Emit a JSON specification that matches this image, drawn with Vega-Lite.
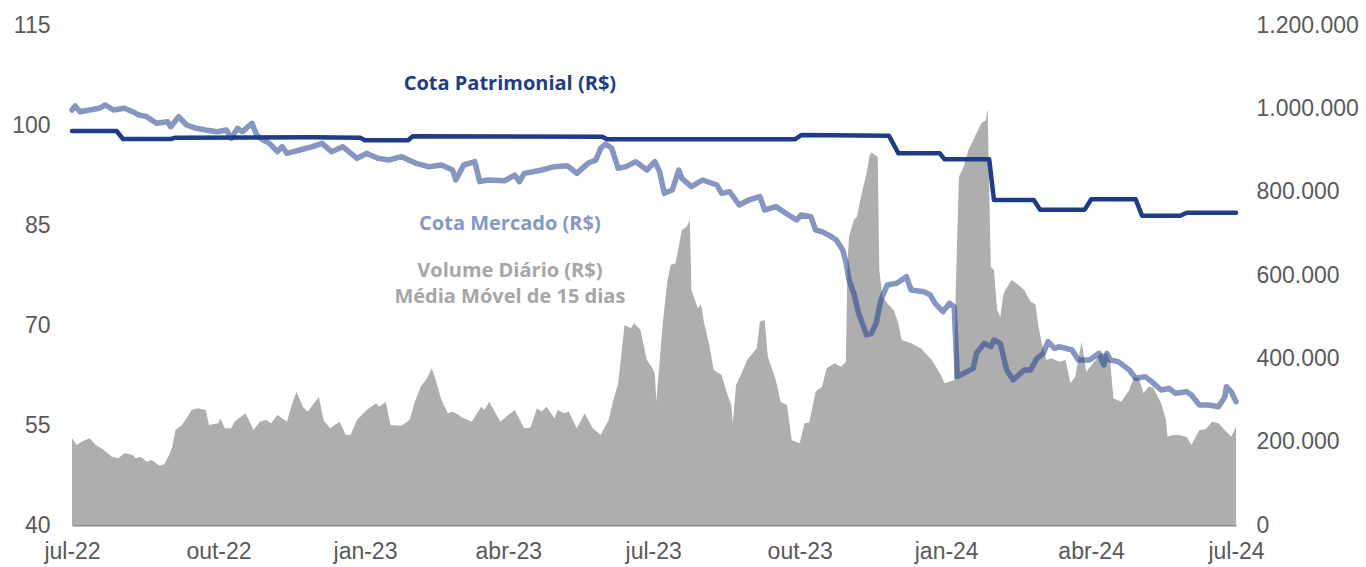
{
  "$schema": "https://vega.github.io/schema/vega-lite/v6.json",
  "width": 1164,
  "height": 500,
  "autosize": {"type": "none"},
  "padding": {"left": 72, "top": 25, "right": 130, "bottom": 42},
  "config": {
    "view": {"stroke": null},
    "locale": {
      "number": {"decimal": ",", "thousands": ".", "grouping": [3], "currency": ["R$", ""]},
      "time": {
        "dateTime": "%A, %e de %B de %Y. %X",
        "date": "%d/%m/%Y",
        "time": "%H:%M:%S",
        "periods": ["AM", "PM"],
        "days": ["domingo", "segunda", "terça", "quarta", "quinta", "sexta", "sábado"],
        "shortDays": ["dom", "seg", "ter", "qua", "qui", "sex", "sáb"],
        "months": ["janeiro", "fevereiro", "março", "abril", "maio", "junho", "julho", "agosto", "setembro", "outubro", "novembro", "dezembro"],
        "shortMonths": ["jan", "fev", "mar", "abr", "mai", "jun", "jul", "ago", "set", "out", "nov", "dez"]
      }
    },
    "axis": {
      "grid": false,
      "ticks": false,
      "domain": false,
      "title": null,
      "labelFont": "Liberation Sans",
      "labelFontSize": 23,
      "labelColor": "#595959",
      "labelFlush": false
    },
    "axisX": {"domain": true, "domainColor": "#8C8C8C", "domainWidth": 2, "labelPadding": 15}
  },
  "datasets": {
    "vol": [
      {"date": "2022-07-01", "vol": 208000}, {"date": "2022-07-04", "vol": 192000}, {"date": "2022-07-07", "vol": 200000}, {"date": "2022-07-12", "vol": 208000},
      {"date": "2022-07-16", "vol": 192000}, {"date": "2022-07-21", "vol": 180000}, {"date": "2022-07-26", "vol": 164000}, {"date": "2022-07-30", "vol": 160000},
      {"date": "2022-08-03", "vol": 172000}, {"date": "2022-08-08", "vol": 168000}, {"date": "2022-08-10", "vol": 160000}, {"date": "2022-08-13", "vol": 164000},
      {"date": "2022-08-17", "vol": 152000}, {"date": "2022-08-20", "vol": 156000}, {"date": "2022-08-25", "vol": 142000}, {"date": "2022-08-28", "vol": 146000},
      {"date": "2022-08-31", "vol": 168000}, {"date": "2022-09-02", "vol": 188000}, {"date": "2022-09-04", "vol": 228000}, {"date": "2022-09-08", "vol": 240000},
      {"date": "2022-09-11", "vol": 256000}, {"date": "2022-09-14", "vol": 276000}, {"date": "2022-09-18", "vol": 280000}, {"date": "2022-09-23", "vol": 276000},
      {"date": "2022-09-25", "vol": 240000}, {"date": "2022-10-01", "vol": 244000}, {"date": "2022-10-02", "vol": 256000}, {"date": "2022-10-05", "vol": 232000},
      {"date": "2022-10-09", "vol": 232000}, {"date": "2022-10-11", "vol": 248000}, {"date": "2022-10-18", "vol": 268000}, {"date": "2022-10-23", "vol": 228000},
      {"date": "2022-10-27", "vol": 248000}, {"date": "2022-10-31", "vol": 252000}, {"date": "2022-11-03", "vol": 244000}, {"date": "2022-11-07", "vol": 264000},
      {"date": "2022-11-13", "vol": 248000}, {"date": "2022-11-16", "vol": 288000}, {"date": "2022-11-19", "vol": 320000}, {"date": "2022-11-23", "vol": 284000},
      {"date": "2022-11-26", "vol": 272000}, {"date": "2022-12-03", "vol": 308000}, {"date": "2022-12-06", "vol": 252000}, {"date": "2022-12-10", "vol": 232000},
      {"date": "2022-12-16", "vol": 248000}, {"date": "2022-12-20", "vol": 216000}, {"date": "2022-12-23", "vol": 216000}, {"date": "2022-12-27", "vol": 252000},
      {"date": "2023-01-02", "vol": 276000}, {"date": "2023-01-08", "vol": 292000}, {"date": "2023-01-10", "vol": 284000}, {"date": "2023-01-14", "vol": 296000},
      {"date": "2023-01-17", "vol": 240000}, {"date": "2023-01-24", "vol": 238000}, {"date": "2023-01-29", "vol": 252000}, {"date": "2023-02-01", "vol": 292000},
      {"date": "2023-02-05", "vol": 332000}, {"date": "2023-02-09", "vol": 352000}, {"date": "2023-02-12", "vol": 376000}, {"date": "2023-02-15", "vol": 340000},
      {"date": "2023-02-18", "vol": 300000}, {"date": "2023-02-22", "vol": 268000}, {"date": "2023-02-25", "vol": 272000}, {"date": "2023-03-01", "vol": 264000},
      {"date": "2023-03-02", "vol": 260000}, {"date": "2023-03-09", "vol": 248000}, {"date": "2023-03-15", "vol": 284000}, {"date": "2023-03-17", "vol": 276000},
      {"date": "2023-03-20", "vol": 296000}, {"date": "2023-03-27", "vol": 248000}, {"date": "2023-04-01", "vol": 264000}, {"date": "2023-04-05", "vol": 276000},
      {"date": "2023-04-11", "vol": 232000}, {"date": "2023-04-15", "vol": 234000}, {"date": "2023-04-19", "vol": 280000}, {"date": "2023-04-22", "vol": 272000},
      {"date": "2023-04-25", "vol": 284000}, {"date": "2023-04-30", "vol": 256000}, {"date": "2023-05-02", "vol": 276000}, {"date": "2023-05-06", "vol": 268000},
      {"date": "2023-05-09", "vol": 272000}, {"date": "2023-05-14", "vol": 232000}, {"date": "2023-05-19", "vol": 268000}, {"date": "2023-05-24", "vol": 232000},
      {"date": "2023-05-29", "vol": 216000}, {"date": "2023-06-03", "vol": 252000}, {"date": "2023-06-06", "vol": 300000}, {"date": "2023-06-09", "vol": 340000},
      {"date": "2023-06-13", "vol": 480000}, {"date": "2023-06-17", "vol": 472000}, {"date": "2023-06-19", "vol": 484000}, {"date": "2023-06-23", "vol": 468000},
      {"date": "2023-06-27", "vol": 396000}, {"date": "2023-06-30", "vol": 380000}, {"date": "2023-07-02", "vol": 364000}, {"date": "2023-07-03", "vol": 296000},
      {"date": "2023-07-07", "vol": 484000}, {"date": "2023-07-10", "vol": 588000}, {"date": "2023-07-12", "vol": 624000}, {"date": "2023-07-15", "vol": 628000},
      {"date": "2023-07-19", "vol": 708000}, {"date": "2023-07-22", "vol": 716000}, {"date": "2023-07-24", "vol": 732000}, {"date": "2023-07-25", "vol": 564000},
      {"date": "2023-07-29", "vol": 520000}, {"date": "2023-07-31", "vol": 530000}, {"date": "2023-08-02", "vol": 484000}, {"date": "2023-08-05", "vol": 436000},
      {"date": "2023-08-08", "vol": 372000}, {"date": "2023-08-13", "vol": 360000}, {"date": "2023-08-16", "vol": 320000}, {"date": "2023-08-19", "vol": 288000},
      {"date": "2023-08-20", "vol": 244000}, {"date": "2023-08-22", "vol": 336000}, {"date": "2023-08-25", "vol": 360000}, {"date": "2023-08-29", "vol": 396000},
      {"date": "2023-09-04", "vol": 424000}, {"date": "2023-09-06", "vol": 488000}, {"date": "2023-09-09", "vol": 492000}, {"date": "2023-09-11", "vol": 404000},
      {"date": "2023-09-16", "vol": 348000}, {"date": "2023-09-19", "vol": 296000}, {"date": "2023-09-23", "vol": 288000}, {"date": "2023-09-26", "vol": 204000},
      {"date": "2023-10-01", "vol": 196000}, {"date": "2023-10-04", "vol": 244000}, {"date": "2023-10-07", "vol": 246000}, {"date": "2023-10-11", "vol": 320000},
      {"date": "2023-10-15", "vol": 332000}, {"date": "2023-10-18", "vol": 376000}, {"date": "2023-10-23", "vol": 388000}, {"date": "2023-10-27", "vol": 380000},
      {"date": "2023-10-30", "vol": 392000}, {"date": "2023-10-31", "vol": 628000}, {"date": "2023-11-01", "vol": 692000}, {"date": "2023-11-04", "vol": 732000},
      {"date": "2023-11-06", "vol": 740000}, {"date": "2023-11-08", "vol": 780000}, {"date": "2023-11-12", "vol": 844000}, {"date": "2023-11-14", "vol": 888000},
      {"date": "2023-11-15", "vol": 894000}, {"date": "2023-11-19", "vol": 884000}, {"date": "2023-11-20", "vol": 612000}, {"date": "2023-11-22", "vol": 548000},
      {"date": "2023-11-25", "vol": 532000}, {"date": "2023-11-29", "vol": 516000}, {"date": "2023-12-02", "vol": 484000}, {"date": "2023-12-04", "vol": 444000},
      {"date": "2023-12-10", "vol": 436000}, {"date": "2023-12-16", "vol": 424000}, {"date": "2023-12-23", "vol": 396000}, {"date": "2023-12-28", "vol": 364000},
      {"date": "2023-12-31", "vol": 340000}, {"date": "2024-01-06", "vol": 348000}, {"date": "2024-01-07", "vol": 564000}, {"date": "2024-01-09", "vol": 836000},
      {"date": "2024-01-12", "vol": 860000}, {"date": "2024-01-15", "vol": 900000}, {"date": "2024-01-20", "vol": 940000}, {"date": "2024-01-23", "vol": 964000},
      {"date": "2024-01-26", "vol": 972000}, {"date": "2024-01-27", "vol": 1000000}, {"date": "2024-01-29", "vol": 620000}, {"date": "2024-01-31", "vol": 612000},
      {"date": "2024-02-02", "vol": 516000}, {"date": "2024-02-04", "vol": 500000}, {"date": "2024-02-06", "vol": 556000}, {"date": "2024-02-11", "vol": 588000},
      {"date": "2024-02-14", "vol": 580000}, {"date": "2024-02-19", "vol": 564000}, {"date": "2024-02-23", "vol": 536000}, {"date": "2024-02-26", "vol": 530000},
      {"date": "2024-02-28", "vol": 476000}, {"date": "2024-03-01", "vol": 436000}, {"date": "2024-03-04", "vol": 396000}, {"date": "2024-03-07", "vol": 400000},
      {"date": "2024-03-12", "vol": 392000}, {"date": "2024-03-16", "vol": 396000}, {"date": "2024-03-19", "vol": 340000}, {"date": "2024-03-22", "vol": 356000},
      {"date": "2024-03-26", "vol": 440000}, {"date": "2024-03-29", "vol": 368000}, {"date": "2024-04-03", "vol": 392000}, {"date": "2024-04-07", "vol": 412000},
      {"date": "2024-04-11", "vol": 412000}, {"date": "2024-04-13", "vol": 392000}, {"date": "2024-04-15", "vol": 304000}, {"date": "2024-04-20", "vol": 296000},
      {"date": "2024-04-25", "vol": 324000}, {"date": "2024-04-28", "vol": 356000}, {"date": "2024-05-01", "vol": 352000}, {"date": "2024-05-04", "vol": 316000},
      {"date": "2024-05-07", "vol": 332000}, {"date": "2024-05-10", "vol": 330000}, {"date": "2024-05-15", "vol": 292000}, {"date": "2024-05-18", "vol": 252000},
      {"date": "2024-05-19", "vol": 212000}, {"date": "2024-05-22", "vol": 216000}, {"date": "2024-05-26", "vol": 216000}, {"date": "2024-05-31", "vol": 212000},
      {"date": "2024-06-03", "vol": 192000}, {"date": "2024-06-08", "vol": 228000}, {"date": "2024-06-12", "vol": 230000}, {"date": "2024-06-16", "vol": 248000},
      {"date": "2024-06-20", "vol": 244000}, {"date": "2024-06-25", "vol": 224000}, {"date": "2024-06-28", "vol": 212000}, {"date": "2024-07-01", "vol": 236000}
    ],
    "pat": [
      {"date": "2022-07-01", "v": 99.1}, {"date": "2022-07-29", "v": 99.1}, {"date": "2022-08-02", "v": 97.9}, {"date": "2022-09-01", "v": 97.9},
      {"date": "2022-09-04", "v": 98.1}, {"date": "2022-11-28", "v": 98.15}, {"date": "2022-12-29", "v": 98.1}, {"date": "2023-01-01", "v": 97.7},
      {"date": "2023-01-28", "v": 97.7}, {"date": "2023-01-31", "v": 98.3}, {"date": "2023-05-30", "v": 98.25}, {"date": "2023-06-02", "v": 97.85},
      {"date": "2023-09-28", "v": 97.85}, {"date": "2023-10-02", "v": 98.5}, {"date": "2023-11-26", "v": 98.4}, {"date": "2023-12-02", "v": 95.75},
      {"date": "2023-12-28", "v": 95.75}, {"date": "2023-12-31", "v": 94.85}, {"date": "2024-01-28", "v": 94.85}, {"date": "2024-01-31", "v": 88.75},
      {"date": "2024-02-25", "v": 88.75}, {"date": "2024-02-29", "v": 87.3}, {"date": "2024-03-28", "v": 87.3}, {"date": "2024-04-01", "v": 88.85},
      {"date": "2024-04-29", "v": 88.85}, {"date": "2024-05-03", "v": 86.4}, {"date": "2024-05-27", "v": 86.4}, {"date": "2024-05-31", "v": 86.85},
      {"date": "2024-07-01", "v": 86.85}
    ],
    "mer": [
      {"date": "2022-07-01", "v": 102.25}, {"date": "2022-07-03", "v": 102.85}, {"date": "2022-07-06", "v": 102.0}, {"date": "2022-07-18", "v": 102.5},
      {"date": "2022-07-22", "v": 103.0}, {"date": "2022-07-27", "v": 102.25}, {"date": "2022-08-03", "v": 102.5}, {"date": "2022-08-08", "v": 102.0},
      {"date": "2022-08-12", "v": 101.5}, {"date": "2022-08-17", "v": 101.25}, {"date": "2022-08-23", "v": 100.25}, {"date": "2022-08-30", "v": 100.5},
      {"date": "2022-09-01", "v": 99.75}, {"date": "2022-09-06", "v": 101.25}, {"date": "2022-09-11", "v": 100.0}, {"date": "2022-09-17", "v": 99.5},
      {"date": "2022-09-23", "v": 99.25}, {"date": "2022-09-30", "v": 99.0}, {"date": "2022-10-06", "v": 99.25}, {"date": "2022-10-09", "v": 98.0},
      {"date": "2022-10-13", "v": 99.5}, {"date": "2022-10-16", "v": 99.0}, {"date": "2022-10-22", "v": 100.25}, {"date": "2022-10-25", "v": 98.5},
      {"date": "2022-10-29", "v": 97.75}, {"date": "2022-11-02", "v": 97.25}, {"date": "2022-11-07", "v": 96.0}, {"date": "2022-11-10", "v": 96.75},
      {"date": "2022-11-13", "v": 95.75}, {"date": "2022-11-21", "v": 96.25}, {"date": "2022-11-29", "v": 96.75}, {"date": "2022-12-05", "v": 97.25},
      {"date": "2022-12-11", "v": 96.0}, {"date": "2022-12-18", "v": 96.75}, {"date": "2022-12-27", "v": 95.0}, {"date": "2023-01-02", "v": 95.75},
      {"date": "2023-01-09", "v": 95.0}, {"date": "2023-01-16", "v": 94.75}, {"date": "2023-01-24", "v": 95.25}, {"date": "2023-02-02", "v": 94.25},
      {"date": "2023-02-10", "v": 93.75}, {"date": "2023-02-18", "v": 94.0}, {"date": "2023-02-25", "v": 93.25}, {"date": "2023-02-27", "v": 91.75},
      {"date": "2023-03-04", "v": 94.0}, {"date": "2023-03-11", "v": 94.5}, {"date": "2023-03-14", "v": 91.5}, {"date": "2023-03-19", "v": 91.75},
      {"date": "2023-03-30", "v": 91.65}, {"date": "2023-04-05", "v": 92.5}, {"date": "2023-04-08", "v": 91.5}, {"date": "2023-04-11", "v": 92.75},
      {"date": "2023-04-22", "v": 93.25}, {"date": "2023-04-30", "v": 93.75}, {"date": "2023-05-08", "v": 93.9}, {"date": "2023-05-14", "v": 92.75},
      {"date": "2023-05-21", "v": 94.25}, {"date": "2023-05-26", "v": 94.75}, {"date": "2023-05-29", "v": 96.5}, {"date": "2023-06-01", "v": 97.15},
      {"date": "2023-06-05", "v": 96.5}, {"date": "2023-06-09", "v": 93.5}, {"date": "2023-06-14", "v": 93.75}, {"date": "2023-06-20", "v": 94.5},
      {"date": "2023-06-27", "v": 93.25}, {"date": "2023-07-02", "v": 94.5}, {"date": "2023-07-05", "v": 93.0}, {"date": "2023-07-08", "v": 89.75},
      {"date": "2023-07-13", "v": 90.25}, {"date": "2023-07-17", "v": 93.25}, {"date": "2023-07-19", "v": 92.0}, {"date": "2023-07-25", "v": 90.75},
      {"date": "2023-08-01", "v": 91.75}, {"date": "2023-08-10", "v": 91.0}, {"date": "2023-08-13", "v": 89.75}, {"date": "2023-08-18", "v": 90.0},
      {"date": "2023-08-24", "v": 88.0}, {"date": "2023-08-30", "v": 88.75}, {"date": "2023-09-06", "v": 89.25}, {"date": "2023-09-09", "v": 87.25},
      {"date": "2023-09-16", "v": 87.75}, {"date": "2023-09-24", "v": 86.5}, {"date": "2023-09-29", "v": 85.75}, {"date": "2023-10-02", "v": 86.5},
      {"date": "2023-10-08", "v": 86.25}, {"date": "2023-10-11", "v": 84.25}, {"date": "2023-10-15", "v": 84.0}, {"date": "2023-10-21", "v": 83.25},
      {"date": "2023-10-24", "v": 82.75}, {"date": "2023-10-28", "v": 81.25}, {"date": "2023-10-30", "v": 79.5}, {"date": "2023-11-01", "v": 76.75},
      {"date": "2023-11-04", "v": 74.75}, {"date": "2023-11-07", "v": 71.75}, {"date": "2023-11-12", "v": 68.5}, {"date": "2023-11-15", "v": 68.75},
      {"date": "2023-11-18", "v": 70.25}, {"date": "2023-11-21", "v": 73.75}, {"date": "2023-11-25", "v": 76.0}, {"date": "2023-12-01", "v": 76.25},
      {"date": "2023-12-07", "v": 77.25}, {"date": "2023-12-10", "v": 75.25}, {"date": "2023-12-18", "v": 75.0}, {"date": "2023-12-22", "v": 74.5},
      {"date": "2023-12-25", "v": 73.25}, {"date": "2023-12-30", "v": 72.0}, {"date": "2024-01-03", "v": 73.25}, {"date": "2024-01-06", "v": 72.75},
      {"date": "2024-01-08", "v": 62.25}, {"date": "2024-01-12", "v": 62.75}, {"date": "2024-01-18", "v": 63.5}, {"date": "2024-01-20", "v": 65.75},
      {"date": "2024-01-25", "v": 67.25}, {"date": "2024-01-29", "v": 66.75}, {"date": "2024-01-31", "v": 67.75}, {"date": "2024-02-04", "v": 67.25},
      {"date": "2024-02-08", "v": 63.25}, {"date": "2024-02-12", "v": 61.75}, {"date": "2024-02-19", "v": 63.25}, {"date": "2024-02-23", "v": 63.25},
      {"date": "2024-02-27", "v": 65.0}, {"date": "2024-03-02", "v": 65.75}, {"date": "2024-03-05", "v": 67.5}, {"date": "2024-03-09", "v": 66.5},
      {"date": "2024-03-12", "v": 66.75}, {"date": "2024-03-20", "v": 66.25}, {"date": "2024-03-24", "v": 64.75}, {"date": "2024-03-31", "v": 64.75},
      {"date": "2024-04-06", "v": 65.75}, {"date": "2024-04-09", "v": 64.0}, {"date": "2024-04-11", "v": 65.75}, {"date": "2024-04-13", "v": 64.75},
      {"date": "2024-04-18", "v": 64.5}, {"date": "2024-04-25", "v": 63.25}, {"date": "2024-04-29", "v": 62.0}, {"date": "2024-05-05", "v": 62.25},
      {"date": "2024-05-09", "v": 61.5}, {"date": "2024-05-15", "v": 60.25}, {"date": "2024-05-20", "v": 60.5}, {"date": "2024-05-24", "v": 59.75},
      {"date": "2024-05-31", "v": 60.0}, {"date": "2024-06-03", "v": 59.5}, {"date": "2024-06-08", "v": 58.0}, {"date": "2024-06-14", "v": 58.0},
      {"date": "2024-06-20", "v": 57.75}, {"date": "2024-06-24", "v": 59.25}, {"date": "2024-06-25", "v": 60.75}, {"date": "2024-06-28", "v": 60.0},
      {"date": "2024-07-01", "v": 58.5}
    ],
    "labels": [
      {"date": "2023-04-02", "v": 106.15, "t": "Cota Patrimonial (R$)", "s": "pat"},
      {"date": "2023-04-02", "v": 85.15, "t": "Cota Mercado (R$)", "s": "mer"},
      {"date": "2023-04-02", "v": 78.1, "t": "Volume Diário (R$)", "s": "vol"},
      {"date": "2023-04-02", "v": 74.2, "t": "Média Móvel de 15 dias", "s": "vol"}
    ]
  },
  "layer": [
    {
      "data": {"name": "vol"},
      "mark": {"type": "area", "color": "#AEAEAE", "interpolate": "linear"},
      "encoding": {
        "x": {
          "field": "date", "type": "temporal",
          "scale": {"type": "utc", "domain": [{"year": 2022, "month": 7, "date": 1, "utc": true}, {"year": 2024, "month": 7, "date": 1, "utc": true}]},
          "axis": {
            "format": "%b-%y",
            "values": [
              {"year": 2022, "month": 7, "date": 1, "utc": true}, {"year": 2022, "month": 10, "date": 1, "utc": true},
              {"year": 2023, "month": 1, "date": 1, "utc": true}, {"year": 2023, "month": 4, "date": 1, "utc": true},
              {"year": 2023, "month": 7, "date": 1, "utc": true}, {"year": 2023, "month": 10, "date": 1, "utc": true},
              {"year": 2024, "month": 1, "date": 1, "utc": true}, {"year": 2024, "month": 4, "date": 1, "utc": true},
              {"year": 2024, "month": 7, "date": 1, "utc": true}
            ]
          }
        },
        "y": {
          "field": "vol", "type": "quantitative",
          "scale": {"domain": [0, 1200000], "nice": false, "zero": true},
          "axis": {"orient": "right", "values": [0, 200000, 400000, 600000, 800000, 1000000, 1200000], "format": ",d", "labelPadding": 20}
        }
      }
    },
    {
      "layer": [
        {
          "data": {"name": "pat"},
          "mark": {"type": "line", "color": "#1F3C88", "strokeWidth": 4.5, "strokeJoin": "round", "strokeCap": "round"},
          "encoding": {
            "x": {"field": "date", "type": "temporal"},
            "y": {
              "field": "v", "type": "quantitative",
              "scale": {"domain": [40, 115], "nice": false, "zero": false},
              "axis": {"orient": "left", "values": [40, 55, 70, 85, 100, 115], "labelPadding": 22}
            }
          }
        },
        {
          "data": {"name": "mer"},
          "mark": {"type": "line", "color": "#203F8F", "strokeOpacity": 0.55, "strokeWidth": 5.5, "strokeJoin": "round", "strokeCap": "round"},
          "encoding": {
            "x": {"field": "date", "type": "temporal"},
            "y": {"field": "v", "type": "quantitative"}
          }
        },
        {
          "data": {"name": "labels"},
          "mark": {"type": "text", "font": "Open Sans", "fontWeight": "bold", "fontSize": 20, "align": "center", "baseline": "middle"},
          "encoding": {
            "x": {"field": "date", "type": "temporal"},
            "y": {"field": "v", "type": "quantitative"},
            "text": {"field": "t"},
            "color": {"field": "s", "type": "nominal", "scale": {"domain": ["pat", "mer", "vol"], "range": ["#1F3C88", "#8497C6", "#A6A6A6"]}, "legend": null}
          }
        }
      ]
    }
  ],
  "resolve": {"scale": {"y": "independent"}}
}
